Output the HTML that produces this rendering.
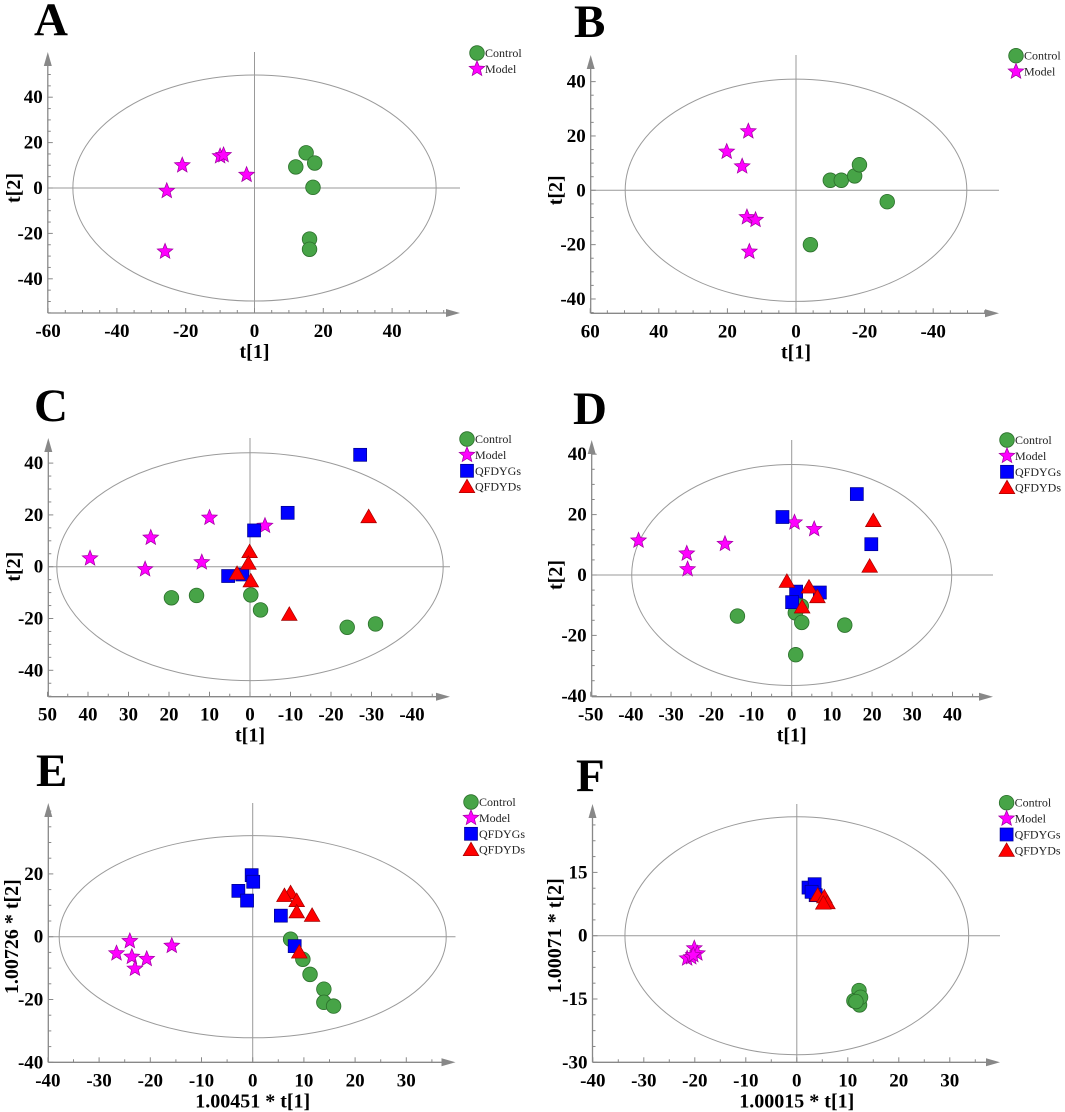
<!DOCTYPE html>
<html><head><meta charset="utf-8">
<style>
html,body{margin:0;padding:0;background:#fff;}
svg{display:block;font-family:"Liberation Serif",serif;}
</style></head>
<body>
<svg id="fig" width="1065" height="1112" viewBox="0 0 1065 1112" xmlns="http://www.w3.org/2000/svg"></svg>
<script>
// ---- Panel A data ----
const A_control_x = [15, 17.5, 12, 17, 16, 16];
const A_control_y = [15.5, 11, 9.3, 0.3, -22.5, -27];
const A_model_x = [-25.5, -21, -10, -9, -2.3, -26];
const A_model_y = [-1.3, 10, 14, 14.5, 5.8, -28];
const A_xticks = [-60, -40, -20, 0, 20, 40];
const A_yticks = [-40, -20, 0, 20, 40];
// ---- Panel B data ----
const B_control_x = [-10, -13.2, -17.1, -18.5, -26.6, -4.2];
const B_control_y = [3.7, 3.7, 5.3, 9.4, -4.2, -20];
const B_model_x = [13.9, 20.2, 15.7, 14.3, 11.8, 13.6];
const B_model_y = [21.7, 14.2, 8.8, -9.9, -10.9, -22.6];
const B_xticks = [60, 40, 20, 0, -20, -40];
const B_yticks = [-40, -20, 0, 20, 40];
// ---- Panel C data ----
const C_control_x = [19.4, 13.2, -0.2, -2.6, -24, -31];
const C_control_y = [-12, -11.1, -10.9, -16.7, -23.4, -22.1];
const C_model_x = [39.5, 24.5, 10, -3.7, 25.9, 11.9];
const C_model_y = [3.2, 11.2, 18.9, 15.8, -1, 1.7];
const C_qg_x = [-27.2, -9.3, -1, 5.4, 1.9];
const C_qg_y = [43.2, 20.8, 14, -3.6, -3];
const C_qd_x = [-29.3, 0.1, 0.4, -0.2, 3.2, -9.7];
const C_qd_y = [19.3, 5.8, 1.3, -5.5, -2.6, -18.4];
const C_xticks = [50, 40, 30, 20, 10, 0, -10, -20, -30, -40];
const C_yticks = [-40, -20, 0, 20, 40];
// ---- Panel D data ----
const D_control_x = [-13.5, 2.4, 0.9, 2.5, 13.2, 1];
const D_control_y = [-13.6, -10.3, -12.5, -15.7, -16.6, -26.4];
const D_model_x = [-38.1, -26.1, -25.9, -16.6, 0.7, 5.6];
const D_model_y = [11.4, 7.1, 1.9, 10.3, 17.4, 15.2];
const D_qg_x = [16.2, -2.3, 19.8, 1.1, 7, 0.1];
const D_qg_y = [26.8, 19.2, 10.2, -5.5, -5.8, -9];
const D_qd_x = [20.3, 19.4, -1.2, 4.3, 6.4, 2.6];
const D_qd_y = [18, 2.9, -2.1, -4, -7.2, -10.6];
const D_xticks = [-50, -40, -30, -20, -10, 0, 10, 20, 30, 40];
const D_yticks = [-40, -20, 0, 20, 40];
// ---- Panel E data ----
const E_control_x = [7.4, 9.8, 11.2, 13.9, 13.9, 15.8];
const E_control_y = [-0.8, -7.2, -12, -16.7, -20.9, -22.1];
const E_model_x = [-24, -26.6, -23.6, -20.7, -23, -15.8];
const E_model_y = [-1.4, -5.3, -6.4, -7.1, -10.2, -2.9];
const E_qg_x = [-0.2, 0.1, -2.8, -1.1, 5.5, 8.2];
const E_qg_y = [19.6, 17.5, 14.6, 11.5, 6.7, -3];
const E_qd_x = [7.4, 6.2, 8.6, 8.6, 11.6, 9.1];
const E_qd_y = [14, 13.1, 11.5, 7.9, 6.8, -4.9];
const E_xticks = [-40, -30, -20, -10, 0, 10, 20, 30];
const E_yticks = [-40, -20, 0, 20];
// ---- Panel F data ----
const F_control_x = [12.2, 11.2, 12.3, 12.5, 11.6];
const F_control_y = [-13, -15.4, -16.4, -14.6, -15.6];
const F_model_x = [-20.1, -19.5, -21.5, -20.7, -20.3];
const F_model_y = [-3, -4.2, -5.4, -5.1, -4.6];
const F_qg_x = [2.3, 3.5, 3.7, 2.9];
const F_qg_y = [11.4, 12.2, 9.6, 10.4];
const F_qd_x = [4.1, 5.4, 6, 5.2];
const F_qd_y = [9.6, 9.2, 7.8, 7.7];
const F_xticks = [-40, -30, -20, -10, 0, 10, 20, 30];
const F_yticks = [-30, -15, 0, 15];

const NS = "http://www.w3.org/2000/svg";
const svg = document.getElementById('fig');
function mk(tag, attrs, parent) {
  const e = document.createElementNS(NS, tag);
  for (const k in attrs) e.setAttribute(k, attrs[k]);
  (parent || svg).appendChild(e);
  return e;
}
const STY = {
  control: {fill: '#47a447', stroke: '#2b6f2b'},
  model: {fill: '#ff00ff', stroke: '#a000a0'},
  qg: {fill: '#0000ff', stroke: '#00008a'},
  qd: {fill: '#ff0000', stroke: '#a00000'}
};
function marker(kind, cx, cy, g) {
  const s = STY[kind];
  let e;
  if (kind === 'control') {
    e = mk('circle', {cx: cx, cy: cy, r: 7.3, fill: s.fill, stroke: s.stroke, 'stroke-width': 0.8}, g);
  } else if (kind === 'model') {
    let p = [];
    for (let i = 0; i < 10; i++) {
      const r = i % 2 ? 3.6 : 8.2;
      const a = -Math.PI / 2 + i * Math.PI / 5;
      p.push((cx + r * Math.cos(a)).toFixed(2) + ',' + (cy + r * Math.sin(a)).toFixed(2));
    }
    e = mk('polygon', {points: p.join(' '), fill: s.fill, stroke: s.stroke, 'stroke-width': 0.7}, g);
  } else if (kind === 'qg') {
    e = mk('rect', {x: cx - 6.5, y: cy - 6.5, width: 13, height: 13, fill: s.fill, stroke: s.stroke, 'stroke-width': 0.7}, g);
  } else {
    e = mk('polygon', {points: (cx) + ',' + (cy - 7.5) + ' ' + (cx + 7.8) + ',' + (cy + 6) + ' ' + (cx - 7.8) + ',' + (cy + 6), fill: s.fill, stroke: s.stroke, 'stroke-width': 0.7}, g);
  }
  return e;
}
const LABELS = {control: 'Control', model: 'Model', qg: 'QFDYGs', qd: 'QFDYDs'};

function panel(P) {
  const g = mk('g', {});
  
  
  const X = v => P.x0 + P.xs * v;
  const Y = v => P.y0 - P.ys * v;
  const L = mk('text', {x: P.lx, y: P.ly, 'font-size': 47, 'font-weight': 'bold', fill: '#000'}, g);
  L.textContent = P.letter;
  
  
  const el = mk('ellipse', {cx: X(0), cy: Y(0), rx: Math.abs(P.xs) * P.erx, ry: P.ys * P.ery, fill: 'none', stroke: '#9a9a9a', 'stroke-width': 1}, g);
  
  
  const zv = mk('line', {x1: X(0), y1: P.top, x2: X(0), y2: P.bottom, stroke: '#999', 'stroke-width': 1}, g);
  
  
  const zh = mk('line', {x1: P.left, y1: Y(0), x2: P.right, y2: Y(0), stroke: '#999', 'stroke-width': 1}, g);
  
  
  const ax = mk('line', {x1: P.left, y1: P.bottom, x2: P.right - 8, y2: P.bottom, stroke: '#888', 'stroke-width': 1.3}, g);
  
  
  mk('polygon', {points: (P.right - 14) + ',' + (P.bottom - 4) + ' ' + P.right + ',' + P.bottom + ' ' + (P.right - 14) + ',' + (P.bottom + 4), fill: '#888'}, g);
  const ay = mk('line', {x1: P.left, y1: P.bottom, x2: P.left, y2: P.top + 8, stroke: '#888', 'stroke-width': 1.3}, g);
  
  
  mk('polygon', {points: (P.left - 4) + ',' + (P.top + 14) + ' ' + P.left + ',' + P.top + ' ' + (P.left + 4) + ',' + (P.top + 14), fill: '#888'}, g);
  for (let v = P.xmin; v <= P.xmax + 1e-6; v += P.xstep) {
    const major = P.xticks.some(t => Math.abs(t - v) < 1e-6);
    mk('line', {x1: X(v), y1: P.bottom, x2: X(v), y2: P.bottom - (major ? 5 : 3), stroke: '#888', 'stroke-width': 1}, g);
  }
  for (let v = P.ymin; v <= P.ymax + 1e-6; v += P.ystep) {
    const major = P.yticks.some(t => Math.abs(t - v) < 1e-6);
    mk('line', {x1: P.left, y1: Y(v), x2: P.left + (major ? 5 : 3), y2: Y(v), stroke: '#888', 'stroke-width': 1}, g);
  }
  P.xticks.forEach(v => {
    const t = mk('text', {x: X(v), y: P.bottom + 24, 'font-size': 19, 'font-weight': 'bold', 'text-anchor': 'middle'}, g);
    t.textContent = v;
    
    
  });
  P.yticks.forEach(v => {
    const t = mk('text', {x: P.left - 5, y: Y(v) + 6, 'font-size': 19, 'font-weight': 'bold', 'text-anchor': 'end'}, g);
    t.textContent = v;
    
    
  });
  const xt = mk('text', {x: X(0), y: P.bottom + 45, 'font-size': 20, 'font-weight': 'bold', 'text-anchor': 'middle'}, g);
  xt.textContent = P.xtitle;
  
  
  const ycx = P.ytx, ycy = Y(0);
  const yt = mk('text', {x: ycx, y: ycy, 'font-size': 20, 'font-weight': 'bold', 'text-anchor': 'middle', transform: 'rotate(-90 ' + ycx + ' ' + ycy + ')', 'dominant-baseline': 'central'}, g);
  yt.textContent = P.ytitle;
  
  
  P.series.forEach(s => {
    const sg = mk('g', {}, g);
    
    
    s.x.forEach((v, i) => {
      const m = marker(s.kind, X(v), Y(s.y[i]), sg);
      
      
    });
  });
  const lg = mk('g', {}, g);
  
  
  P.series.forEach((s, i) => {
    const yy = P.legy + i * 15.9;
    const m = marker(s.kind, P.legx, yy, lg);
    
    
    const t = mk('text', {x: P.legx + 8, y: yy + 4, 'font-size': 12, fill: '#222'}, lg);
    t.textContent = LABELS[s.kind];
    
    
  });
}

panel({letter: 'A', lx: 34, ly: 35, x0: 254.5, xs: 3.44, y0: 188, ys: 2.27, left: 47.8, right: 460, top: 52, bottom: 313,
  erx: 52.8, ery: 49.8, xticks: A_xticks, yticks: A_yticks, xmin: -60, xmax: 55, xstep: 5, ymin: -55, ymax: 55, ystep: 5,
  xtitle: 't[1]', ytitle: 't[2]', ytx: 14, legx: 477, legy: 53,
  series: [{kind: 'control', x: A_control_x, y: A_control_y}, {kind: 'model', x: A_model_x, y: A_model_y}]});
panel({letter: 'B', lx: 574, ly: 37, x0: 796, xs: -3.43, y0: 190.3, ys: 2.717, left: 590.7, right: 999, top: 55, bottom: 313.3,
  erx: 49.8, ery: 40.9, xticks: B_xticks, yticks: B_yticks, xmin: -55, xmax: 60, xstep: 5, ymin: -45, ymax: 45, ystep: 5,
  xtitle: 't[1]', ytitle: 't[2]', ytx: 556, legx: 1016, legy: 55.7,
  series: [{kind: 'control', x: B_control_x, y: B_control_y}, {kind: 'model', x: B_model_x, y: B_model_y}]});
panel({letter: 'C', lx: 34, ly: 421, x0: 250, xs: -4.05, y0: 566.7, ys: 2.59, left: 48.3, right: 450, top: 438, bottom: 696.7,
  erx: 47.7, ery: 44, xticks: C_xticks, yticks: C_yticks, xmin: -45, xmax: 50, xstep: 5, ymin: -50, ymax: 45, ystep: 5,
  xtitle: 't[1]', ytitle: 't[2]', ytx: 14, legx: 467, legy: 439,
  series: [{kind: 'control', x: C_control_x, y: C_control_y}, {kind: 'model', x: C_model_x, y: C_model_y}, {kind: 'qg', x: C_qg_x, y: C_qg_y}, {kind: 'qd', x: C_qd_x, y: C_qd_y}]});
panel({letter: 'D', lx: 573, ly: 424, x0: 791.7, xs: 4.02, y0: 575, ys: 3.02, left: 591.7, right: 993, top: 440, bottom: 696.7,
  erx: 39.8, ery: 36.6, xticks: D_xticks, yticks: D_yticks, xmin: -50, xmax: 45, xstep: 5, ymin: -40, ymax: 40, ystep: 5,
  xtitle: 't[1]', ytitle: 't[2]', ytx: 556, legx: 1007, legy: 440,
  series: [{kind: 'control', x: D_control_x, y: D_control_y}, {kind: 'model', x: D_model_x, y: D_model_y}, {kind: 'qg', x: D_qg_x, y: D_qg_y}, {kind: 'qd', x: D_qd_x, y: D_qd_y}]});
panel({letter: 'E', lx: 36, ly: 786, x0: 252.7, xs: 5.12, y0: 936.7, ys: 3.14, left: 48.3, right: 455.5, top: 803, bottom: 1062.3,
  erx: 37.8, ery: 32.2, xticks: E_xticks, yticks: E_yticks, xmin: -40, xmax: 35, xstep: 5, ymin: -40, ymax: 40, ystep: 5,
  xtitle: '1.00451 * t[1]', ytitle: '1.00726 * t[2]', ytx: 12, legx: 471, legy: 802,
  series: [{kind: 'control', x: E_control_x, y: E_control_y}, {kind: 'model', x: E_model_x, y: E_model_y}, {kind: 'qg', x: E_qg_x, y: E_qg_y}, {kind: 'qd', x: E_qd_x, y: E_qd_y}]});
panel({letter: 'F', lx: 576, ly: 791, x0: 796.8, xs: 5.1, y0: 935.7, ys: 4.22, left: 592.5, right: 1000, top: 804, bottom: 1062.3,
  erx: 33.7, ery: 28.2, xticks: F_xticks, yticks: F_yticks, xmin: -40, xmax: 35, xstep: 5, ymin: -30, ymax: 28, ystep: 3.75,
  xtitle: '1.00015 * t[1]', ytitle: '1.00071 * t[2]', ytx: 555, legx: 1006.6, legy: 802.7,
  series: [{kind: 'control', x: F_control_x, y: F_control_y}, {kind: 'model', x: F_model_x, y: F_model_y}, {kind: 'qg', x: F_qg_x, y: F_qg_y}, {kind: 'qd', x: F_qd_x, y: F_qd_y}]});
</script>
</body></html>
